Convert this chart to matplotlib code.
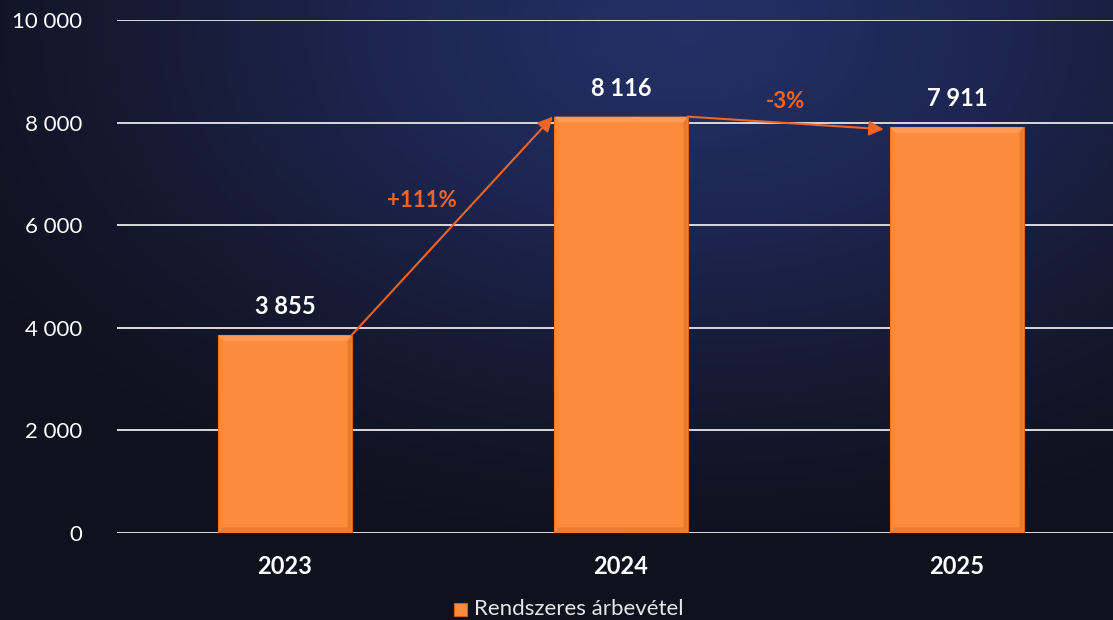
import numpy as np
import matplotlib.pyplot as plt
from matplotlib.patches import Polygon, Rectangle
from matplotlib.colors import LinearSegmentedColormap

plt.rcParams['font.family'] = ['Lato', 'DejaVu Sans']

years = ['2023', '2024', '2025']
revenue = [3855, 8116, 7911]
changes = ['+111%', '-3%']
legend_label = 'Rendszeres árbevétel'
yticks = [0, 2000, 4000, 6000, 8000, 10000]

orange = '#FD8B3C'
arrow_col = '#F06424'


def fmt(v):
    return f'{v:,}'.replace(',', ' ')


fig = plt.figure(figsize=(11.13, 6.2), dpi=100)

# background: dark navy with a blue glow near the top, right of centre
bg = fig.add_axes([0, 0, 1, 1], zorder=-10)
yy, xx = np.mgrid[0:1:200j, 0:1:300j]
d = np.sqrt(((xx - 0.62) / 0.75) ** 2 + ((yy - 0.95) / 0.85) ** 2)
z = np.clip(1 - d, 0, 1)
cmap = LinearSegmentedColormap.from_list('bg', ['#10111c', '#161a33', '#1e2754', '#243066'])
bg.imshow(z, cmap=cmap, aspect='auto', extent=[0, 1, 0, 1], origin='lower')
bg.axis('off')

ax = fig.add_axes([117 / 1113, 1 - 533 / 620, 996 / 1113, 513 / 620])
ax.set_facecolor('none')
x = np.arange(len(years))
w = 0.396
ax.set_xlim(-0.5, -0.5 + 996 / 336)
ax.set_ylim(0, 10000)

for yv in yticks:
    ax.axhline(yv, color='#d9d9de', lw=1.4, zorder=1)

bars = ax.bar(x, revenue, width=w, color=orange, edgecolor='#d0651f', lw=0.8, zorder=3)

# soft bevel effect
bx = 0.012
by = 110
for xi, v in zip(x, revenue):
    l, r = xi - w / 2, xi + w / 2
    ax.add_patch(Polygon([[l, v], [r, v], [r - bx, v - by], [l + bx, v - by]],
                         closed=True, color='#fd9a55', lw=0, zorder=4))
    ax.add_patch(Polygon([[r, v], [r, 0], [r - bx, by], [r - bx, v - by]],
                         closed=True, color='#e87a30', lw=0, zorder=4))
    ax.add_patch(Polygon([[l, 0], [r, 0], [r - bx, by], [l + bx, by]],
                         closed=True, color='#ec7c30', lw=0, zorder=4))
    ax.add_patch(Polygon([[l, v], [l, 0], [l + bx, by], [l + bx, v - by]],
                         closed=True, color='#f88838', lw=0, zorder=4))
    ax.text(xi, v + 330, fmt(v), ha='center', va='bottom', color='white',
            fontsize=17, fontweight='bold', zorder=5)

# change arrows
ax.annotate('', xy=(x[1] - w / 2 - 0.005, revenue[1]), xytext=(x[0] + w / 2, revenue[0]),
            arrowprops=dict(arrowstyle='-|>', color=arrow_col, lw=1.5,
                            mutation_scale=22, shrinkA=0, shrinkB=0), zorder=6)
ax.annotate('', xy=(x[2] - w / 2 - 0.02, revenue[2] - 40), xytext=(x[1] + w / 2, revenue[1]),
            arrowprops=dict(arrowstyle='-|>', color=arrow_col, lw=1.5,
                            mutation_scale=22, shrinkA=0, shrinkB=0), zorder=6)
ax.text(0.407, 6480, changes[0], color=arrow_col, fontsize=16, fontweight='bold',
        ha='center', va='center')
ax.text(1.49, 8420, changes[1], color=arrow_col, fontsize=16, fontweight='bold',
        ha='center', va='center')

ax.set_yticks(yticks)
ax.set_yticklabels([fmt(v) for v in yticks], color='white', fontsize=16)
ax.set_xticks(x)
ax.set_xticklabels(years, color='white', fontsize=17, fontweight='bold')
ax.tick_params(axis='y', length=0, pad=25)
ax.tick_params(axis='x', length=0, pad=16)
for s in ax.spines.values():
    s.set_visible(False)

# legend
lx, ly = 454 / 1113, 1 - 609 / 620
fig.patches.append(Rectangle((lx, ly - 0.011), 13 / 1113, 13 / 620, transform=fig.transFigure,
                             facecolor=orange, edgecolor='#c9601f', lw=0.8))
fig.text(lx + 20 / 1113, ly, legend_label, color='#e6e6ea', fontsize=16, va='center', ha='left')

fig.savefig('out.png', dpi=100)
